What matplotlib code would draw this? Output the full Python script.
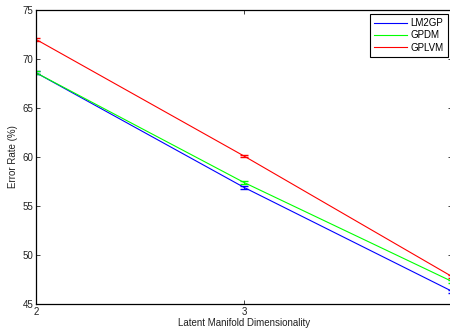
import matplotlib
matplotlib.use('Agg')
import matplotlib.pyplot as plt
from matplotlib.lines import Line2D

dims = [2, 3, 4]
lm2gp = [68.6, 56.9, 46.3]
lm2gp_err = [0.15, 0.15, 0.15]
gpdm = [68.6, 57.4, 47.3]
gpdm_err = [0.15, 0.15, 0.15]
gplvm = [72.0, 60.1, 47.8]
gplvm_err = [0.12, 0.12, 0.12]
names = ['LM2GP', 'GPDM', 'GPLVM']
colors = ['#0000ff', '#00ff00', '#ff0000']

plt.rcParams['font.family'] = ['Liberation Sans', 'DejaVu Sans']
plt.rcParams['font.size'] = 7

fig = plt.figure(figsize=(4.5, 3.31), dpi=100)
ax = fig.add_axes([36 / 450, 27 / 331, 416 / 450, 294 / 331])

for vals, errs, c in zip([lm2gp, gpdm, gplvm], [lm2gp_err, gpdm_err, gplvm_err], colors):
    ax.errorbar(dims, vals, yerr=errs, color=c, lw=0.8, capsize=3, elinewidth=0.8)

ax.set_xlim(2, 4)
ax.set_ylim(45, 75)
ax.set_xticks(dims)
ax.set_yticks(range(45, 76, 5))
ax.tick_params(direction='in', top=True, right=True, length=3, width=0.6, pad=2, colors='#222222')
for s in ax.spines.values():
    s.set_linewidth(0.9)
ax.set_xlabel('Latent Manifold Dimensionality', labelpad=1, color='#222222')
ax.set_ylabel('Error Rate (%)', labelpad=3, color='#222222')

handles = [Line2D([], [], color=c, lw=0.8) for c in colors]
leg = ax.legend(handles, names, loc='upper right', bbox_to_anchor=(0.99, 0.988), fancybox=False,
                edgecolor='black', framealpha=1, handlelength=3.4, borderpad=0.45,
                labelspacing=0.25, handletextpad=0.35, borderaxespad=0)
leg.get_frame().set_linewidth(0.8)

fig.savefig('out.png', dpi=100)
